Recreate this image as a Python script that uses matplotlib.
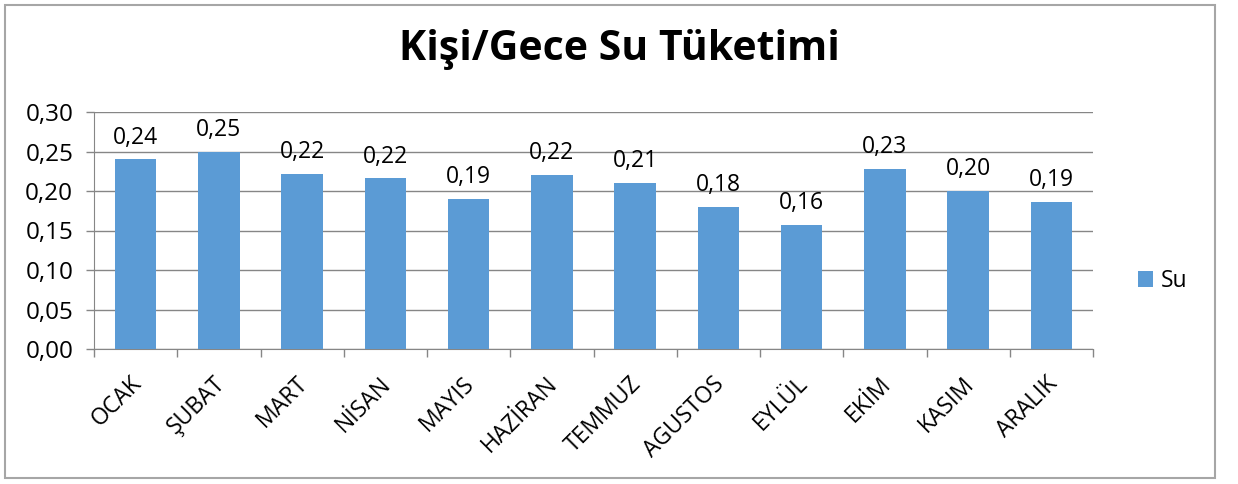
import numpy as np
import matplotlib.pyplot as plt
from matplotlib.patches import Rectangle
from matplotlib.transforms import ScaledTranslation

aylar = ['OCAK', 'ŞUBAT', 'MART', 'NİSAN', 'MAYIS', 'HAZİRAN', 'TEMMUZ',
         'AGUSTOS', 'EYLÜL', 'EKİM', 'KASIM', 'ARALIK']
su = [0.24, 0.25, 0.222, 0.216, 0.19, 0.22, 0.21, 0.18, 0.157, 0.228, 0.20, 0.186]
y_ticks = [0.00, 0.05, 0.10, 0.15, 0.20, 0.25, 0.30]

plt.rcParams['font.family'] = ['Open Sans', 'DejaVu Sans']

renk = '#5B9BD5'
gri = '#868686'
fs = 16.5

fig = plt.figure(figsize=(12.38, 4.84), dpi=100)
ax = fig.add_axes([94 / 1238, 1 - 349 / 484, (1093 - 94) / 1238, (349 - 112) / 484])

x = np.arange(len(aylar))
bars = ax.bar(x, su, width=0.5, color=renk, zorder=3, label='Su')

# veri etiketleri (virgüllü)
for b, v in zip(bars, su):
    ax.annotate(f'{v:.2f}'.replace('.', ','), (b.get_x() + b.get_width() / 2, v),
                xytext=(0, 7), textcoords='offset points', ha='center', va='bottom',
                fontsize=fs)

ax.set_xlim(-0.5, len(aylar) - 0.5)
ax.set_ylim(0, 0.30)
ax.set_yticks(y_ticks)
ax.set_yticklabels([f'{t:.2f}'.replace('.', ',') for t in y_ticks], fontsize=17.5)
ax.yaxis.grid(True, color=gri, lw=1, zorder=0)

ax.set_xticks(x)
ax.set_xticklabels(aylar, rotation=45, ha='right', rotation_mode='anchor', fontsize=fs)
ax.set_xticks(np.arange(-0.5, len(aylar)), minor=True)
ax.tick_params(axis='x', which='major', length=0, pad=15)
ax.tick_params(axis='x', which='minor', length=6, color=gri, width=1)
ax.tick_params(axis='y', length=6, color=gri, width=1, pad=9)

# etiketleri biraz sola/aşağı kaydır
kayma = ScaledTranslation(-6 / 100, -2 / 100, fig.dpi_scale_trans)
for lbl in ax.get_xticklabels():
    lbl.set_transform(lbl.get_transform() + kayma)

for s in ['top', 'right']:
    ax.spines[s].set_visible(False)
ax.spines['left'].set_color(gri)
ax.spines['bottom'].set_color(gri)

fig.text(0.5, 1 - 50 / 484, 'Kişi/Gece Su Tüketimi', ha='center', va='center',
         fontsize=29.5, fontweight='bold')

ax.legend(loc='center left', bbox_to_anchor=(1117 / 1238, 1 - 281 / 484),
          bbox_transform=fig.transFigure, frameon=False, fontsize=fs,
          handlelength=0.65, handleheight=0.65, handletextpad=0.35)

fig.patches.append(Rectangle((5 / 1238, 1 - 478 / 484), 1210 / 1238, 473 / 484,
                             transform=fig.transFigure, fill=False,
                             edgecolor='#a6a6a6', lw=1.5))

fig.savefig('out.png', dpi=100)
